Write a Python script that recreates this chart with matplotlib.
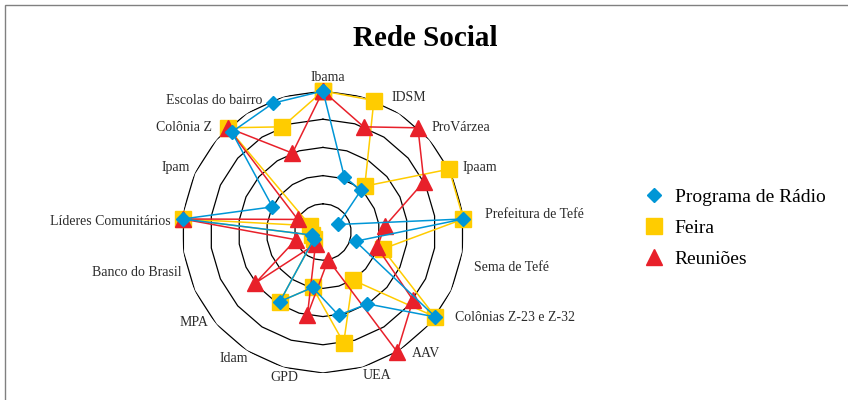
import numpy as np
import matplotlib
matplotlib.use("Agg")
import matplotlib.pyplot as plt
from matplotlib.lines import Line2D
from matplotlib.patches import Rectangle

# ===== Data =====
categories = ["Ibama", "IDSM", "ProVárzea", "Ipaam", "Prefeitura de Tefé",
              "Sema de Tefé", "Colônias Z-23 e Z-32", "AAV", "UEA", "GPD",
              "Idam", "MPA", "Banco do Brasil", "Líderes Comunitários",
              "Ipam", "Colônia Z", "Escolas do bairro"]
radio = [5, 2.1, 2.0, 0.6, 5, 1.2, 5, 3, 3, 2, 2.9, 0.4, 0.4, 5, 2, 4.8, 4.9]
feira = [5, 5, 2.2, 5, 5, 2.2, 5, 2, 4, 2, 2.9, 0.4, 0.4, 5, 0.5, 5, 4]
reunioes = [5, 4, 5, 4, 2.2, 2, 4, 5, 1, 3, 0.5, 3, 1, 5, 1, 5, 3]
series_names = ["Programa de Rádio", "Feira", "Reuniões"]
# ================

# label offsets (pixels) from the outer ring point, Excel-like placement
LABEL_DX = [5, 18, 14, 13, 22, 15, 20, 15, 14, 1, -1, -2, -6, -12, -7, -16, -10]
LABEL_DY = [14, 3, 0, 2, 4, 3, -1, -2, -5, -7, -7, -6, -2, -3, 2, 0, 0]

BLUE = "#0096D6"
YELLOW = "#FFCC00"
RED = "#E8202A"
SERIF = ["Liberation Serif", "DejaVu Serif"]

fig = plt.figure(figsize=(8.48, 4.0), dpi=100)

# chart area border
fig.patches.append(Rectangle((5 / 848, -0.1), 1.2, 0.1 + 395 / 400,
                             transform=fig.transFigure, fill=False,
                             edgecolor="#808080", lw=1.0))

ax = fig.add_axes([0.2146, 0.0675, 0.3325, 0.705], projection="polar")
ax.set_theta_zero_location("N")
ax.set_theta_direction(-1)
ax.set_ylim(0, 5)
ax.grid(False)
ax.set_xticks([])
ax.set_yticks([])
ax.spines["polar"].set_visible(False)
ax.patch.set_alpha(0)

n = len(categories)
theta = np.arange(n) * 2 * np.pi / n

# polygonal rings
ring_t = np.linspace(0, 2 * np.pi, 23)
for lev in range(1, 6):
    ax.plot(ring_t, [lev] * len(ring_t), color="black", lw=0.9, zorder=1)

def closed(vals):
    return np.append(theta, theta[0]), np.append(vals, vals[0])

t, v = closed(feira)
ax.plot(t, v, color=YELLOW, lw=1.1, marker="s", ms=11, mec=YELLOW, zorder=2, clip_on=False)
t, v = closed(reunioes)
ax.plot(t, v, color=RED, lw=1.1, marker="^", ms=11, mec=RED, zorder=3, clip_on=False)
t, v = closed(radio)
ax.plot(t, v, color=BLUE, lw=1.1, marker="D", ms=7, mec=BLUE, zorder=4, clip_on=False)

# category labels
for th, name, dx, dy in zip(theta, categories, LABEL_DX, LABEL_DY):
    s = np.sin(th)
    ha = "left" if s > 0.05 else ("right" if s < -0.05 else "center")
    ax.annotate(name, (th, 5), xytext=(dx, dy), textcoords="offset pixels",
                ha=ha, va="center", fontsize=10, color="#2b2b2b", family=SERIF)

fig.text(0.502, 0.905, "Rede Social", ha="center", va="center",
         fontsize=21, fontweight="bold", family=SERIF)

handles = [
    Line2D([], [], ls="none", marker="D", ms=7, color=BLUE),
    Line2D([], [], ls="none", marker="s", ms=11, color=YELLOW),
    Line2D([], [], ls="none", marker="^", ms=11, color=RED),
]
fig.legend(handles, series_names, loc="center left",
           bbox_to_anchor=(0.737, 0.43), frameon=False,
           prop={"family": SERIF, "size": 14}, labelspacing=0.7,
           handletextpad=0.45, handlelength=1.2)

fig.savefig("out.png", dpi=100)
